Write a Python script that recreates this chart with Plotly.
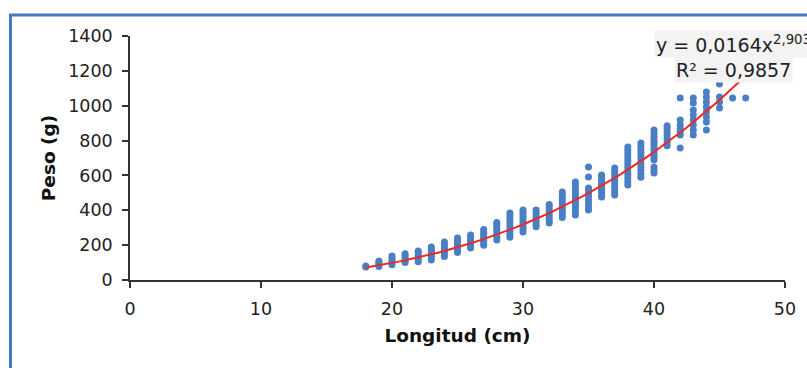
import plotly.graph_objects as go

# Observed weights (g) by length (cm)
lengths = [18, 19, 20, 21, 22, 23, 24, 25, 26, 27, 28, 29, 30, 31, 32, 33,
           34, 35, 36, 37, 38, 39, 40, 41, 42, 43, 44, 45, 46, 47]
weights = [
    [75, 80],
    [78, 90, 100, 109],
    [88, 100, 112, 125, 138],
    [100, 112, 125, 138, 150],
    [105, 118, 130, 142, 155, 166],
    [115, 128, 140, 152, 165, 178, 189],
    [135, 150, 165, 180, 195, 208, 218],
    [158, 172, 185, 198, 210, 222, 235, 241],
    [184, 197, 210, 222, 235, 248, 258],
    [200, 212, 225, 238, 250, 262, 275, 290],
    [230, 245, 260, 275, 290, 305, 318, 330],
    [245, 262, 280, 298, 316, 334, 352, 368, 384],
    [275, 292, 308, 325, 342, 358, 375, 390, 402],
    [305, 320, 337, 354, 370, 387, 402],
    [327, 342, 358, 374, 390, 405, 420, 433],
    [358, 374, 390, 406, 422, 438, 454, 470, 486, 505],
    [373, 390, 407, 424, 440, 457, 474, 490, 510, 530, 545, 562],
    [402, 420, 440, 460, 480, 500, 515, 528, 591, 648],
    [476, 490, 505, 520, 535, 550, 565, 580, 595, 602],
    [488, 505, 522, 540, 558, 575, 592, 610, 627, 643],
    [545, 565, 585, 605, 625, 645, 665, 685, 705, 725, 745, 763],
    [590, 610, 630, 650, 670, 690, 710, 730, 750, 768, 786],
    [614, 631, 648, 690, 705, 720, 735, 750, 765, 780, 795, 810, 825, 840, 860],
    [770, 790, 810, 830, 850, 870, 885],
    [757, 832, 850, 870, 890, 918, 1044],
    [832, 860, 889, 918, 947, 975, 1015, 1044],
    [860, 906, 935, 964, 993, 1021, 1050, 1079],
    [987, 1021, 1050, 1125],
    [1044],
    [1044],
]

# Power trendline shown on the chart: y = a * x^b
trend_a = 0.0164
trend_b = 2.9031
trend_x = [18 + i * 0.5 for i in range(59)]
eq_line1 = "y = 0,0164x<sup>2,9031</sup>"
eq_line2 = "R² = 0,9857"

xs, ys = [], []
for L, ws in zip(lengths, weights):
    for w in ws:
        xs.append(L)
        ys.append(w)

trend_y = [trend_a * x ** trend_b for x in trend_x]

FONT = "DejaVu Sans, Verdana, sans-serif"

fig = go.Figure()
fig.add_trace(go.Scatter(
    x=xs, y=ys, mode="markers",
    marker=dict(color="#4a7fc4", size=7, line=dict(width=0)),
    showlegend=False, hoverinfo="x+y",
))
fig.add_trace(go.Scatter(
    x=trend_x, y=trend_y, mode="lines",
    line=dict(color="#ec2a24", width=2),
    showlegend=False, hoverinfo="skip",
))

fig.update_layout(
    width=807, height=368,
    margin=dict(l=130, r=22, t=36, b=88, autoexpand=False),
    paper_bgcolor="white", plot_bgcolor="white",
    font=dict(family=FONT, size=17, color="#222222"),
    xaxis=dict(
        range=[0, 50], tickvals=[0, 10, 20, 30, 40, 50],
        showgrid=False, zeroline=False,
        showline=True, linecolor="#333333", linewidth=1.5,
        ticks="outside", ticklen=6, tickcolor="#333333", tickwidth=1.5,
        ticklabelstandoff=6,
        tickfont=dict(family=FONT, size=17.5, color="#222222"),
        title=dict(text="<b>Longitud (cm)</b>", standoff=11,
                   font=dict(family=FONT, size=18.5, color="#111111")),
    ),
    yaxis=dict(
        range=[0, 1400], tickvals=[0, 200, 400, 600, 800, 1000, 1200, 1400],
        showgrid=False, zeroline=False,
        showline=True, linecolor="#333333", linewidth=1.5,
        ticks="outside", ticklen=6, tickcolor="#333333", tickwidth=1.5,
        ticklabelstandoff=6,
        tickfont=dict(family=FONT, size=17.5, color="#222222"),
        title=dict(text="<b>Peso (g)</b>", standoff=8,
                   font=dict(family=FONT, size=18.5, color="#111111")),
    ),
    shapes=[dict(
        type="rect", xref="paper", yref="paper",
        x0=-0.1825, x1=1.05, y0=-0.40, y1=1.086,
        line=dict(color="#4479c4", width=3), fillcolor="rgba(0,0,0,0)",
        layer="below",
    )],
    annotations=[
        dict(x=40.0, y=1355, xref="x", yref="y", text=eq_line1,
             xanchor="left", yanchor="middle", showarrow=False,
             bgcolor="#f3f3f3",
             font=dict(family=FONT, size=19, color="#222222")),
        dict(x=41.5, y=1205, xref="x", yref="y", text=eq_line2,
             xanchor="left", yanchor="middle", showarrow=False,
             bgcolor="#f3f3f3",
             font=dict(family=FONT, size=19, color="#222222")),
    ],
)

fig.write_html("out.html")
